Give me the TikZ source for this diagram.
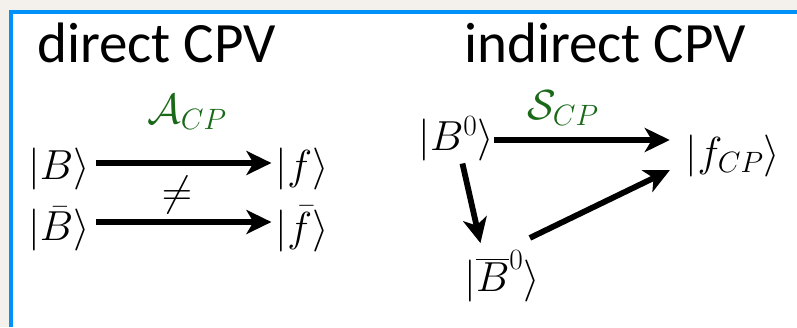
\RequirePackage{fix-cm}
\documentclass[tikz,border=0pt]{standalone}
\usepackage{amsmath}
\usepackage{fontspec}
\newfontfamily\slidefont{Carlito}
\usetikzlibrary{arrows.meta}
\definecolor{slideblue}{RGB}{0,145,250}
\definecolor{slidebeige}{RGB}{244,241,236}
\definecolor{cpgreen}{RGB}{25,105,25}

\begin{document}
\begin{tikzpicture}[x=1pt,y=-1pt,line cap=butt,
 ket/.style={inner sep=0pt,font=\fontsize{42}{48}\selectfont},
 heading/.style={inner sep=0pt,anchor=base west,font=\slidefont\fontsize{57}{64}\selectfont},
 decay/.style={-{Stealth[length=25pt,width=24pt,inset=7pt]},line width=5.8pt}]
\useasboundingbox (0,0) rectangle (797,327);
\fill[slidebeige] (0,0) rectangle (797,327);
\fill[white] (11,12) rectangle (797,327);
\draw[slideblue,line width=4.5pt] (11,327)--(11,12)--(797,12);
% titles
\node[heading] (dtitle) at (37,62) {direct CPV};
\node[heading] (ititle) at (464,62) {indirect CPV};
% direct CPV
\node[ket] (B) at (59,169) {$|B\rangle$};
\node[ket] (Bbar) at (59,229) {$|\bar{B}\rangle$};
\node[ket] (f) at (302,169) {$|f\rangle$};
\node[ket] (fbar) at (302,229) {$|\bar{f}\rangle$};
\node[ket,text=cpgreen] (Acp) at (187,112) {$\mathcal{A}_{CP}$};
\node[ket] (neq) at (177,195) {$\neq$};
\draw[decay,shorten <=6pt,shorten >=4pt] ([yshift=6pt]B.east) -- ([yshift=6pt]f.west);
\draw[decay,shorten <=6pt,shorten >=4pt] ([yshift=7pt]Bbar.east) -- ([yshift=7pt]fbar.west);
% indirect CPV
\node[ket] (B0) at (456,139) {$|B^0\rangle$};
\node[ket] (B0bar) at (502,276) {$|\overline{B}^0\rangle$};
\node[ket] (fcp) at (733,156) {$|f_{CP}\rangle$};
\node[ket,text=cpgreen] (Scp) at (563,108) {$\mathcal{S}_{CP}$};
\draw[decay,shorten >=16pt] ([yshift=-1pt]B0.east) -- ([yshift=-1pt]B0.east -| fcp.west);
\draw[decay,shorten <=2pt,shorten >=7pt] ([xshift=6pt]B0.south) -- ([xshift=-20pt]B0bar.north);
\draw[decay] ([xshift=-10pt,yshift=12pt]B0bar.north east) -- ([xshift=-16pt,yshift=7pt]fcp.south west);
\end{tikzpicture}
\end{document}
